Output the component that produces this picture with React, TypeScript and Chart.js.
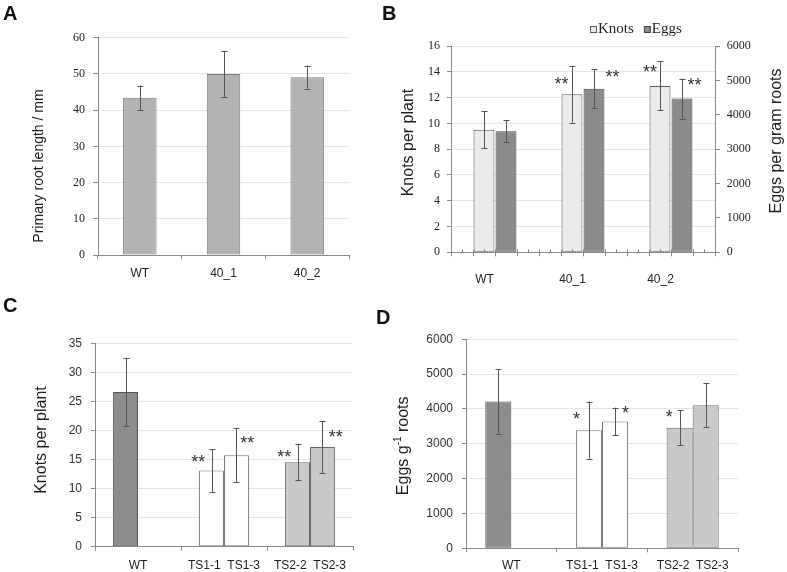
import React, { useEffect, useRef } from 'react';
import { Chart, registerables } from 'chart.js';

Chart.register(...registerables);

const SANS = '"Liberation Sans", Arial, sans-serif';
const SERIF = '"Liberation Serif", "Times New Roman", serif';

// ---------- Panel A ----------
const aCategories = ['WT', '40_1', '40_2'];
const aRootLength = [43.4, 50.0, 49.1];
const aRootLengthSd = [3.4, 6.4, 3.2];

// ---------- Panel B ----------
const bCategories = ['WT', '40_1', '40_2'];
const bKnots = [9.5, 12.25, 12.9];
const bKnotsSd = [1.43, 2.2, 1.9];
const bEggs = [3520, 4760, 4470];
const bEggsSd = [315, 563, 581];
const bKnotsStars = ['', '**', '**'];
const bEggsStars = ['', '**', '**'];

// ---------- Panel C ----------
const cCategories = ['WT', 'TS1-1  TS1-3', 'TS2-2  TS2-3'];
const cFirst = [26.6, 13.1, 14.55];
const cFirstSd = [5.9, 3.7, 3.15];
const cSecond = [null, 15.75, 17.15];
const cSecondSd = [null, 4.65, 4.45];
const cFirstStars = ['', '**', '**'];
const cSecondStars = ['', '**', '**'];

// ---------- Panel D ----------
const dCategories = ['WT', 'TS1-1  TS1-3', 'TS2-2  TS2-3'];
const dFirst = [4215, 3391, 3460];
const dFirstSd = [924, 818, 502];
const dSecond = [null, 3640, 4105];
const dSecondSd = [null, 397, 632];
const dFirstStars = ['', '*', '*'];
const dSecondStars = ['', '*', ''];

// ---------- layout of significance marks (offsets from bar top-centre, px) ----------
const bKnotsStarPos = [null, { dx: -10.5, dy: 13.6 }, { dx: -10, dy: 17.3 }];
const bEggsStarPos = [null, { dx: 18.5, dy: 14.7 }, { dx: 12.6, dy: 17 }];
const cFirstStarPos = [null, { dx: -13.3, dy: 11.6 }, { dx: -13.2, dy: 8.9 }];
const cSecondStarPos = [null, { dx: 10.9, dy: 15.2 }, { dx: 13.2, dy: 13.1 }];
const dFirstStarPos = [null, { dx: -12.5, dy: 15 }, { dx: -10.5, dy: 14 }];
const dSecondStarPos = [null, { dx: 10.5, dy: 12 }, null];

// ---------- colours ----------
const GRID = '#e4e4e4';
const AXIS = '#8a8a8a';
const TEXT = '#1e1e1e';
const ERR = '#555555';
const DARK = '#8d8d8d';
const WHITE = '#ffffff';
const LIGHT = '#c9c9c9';

const plainTick = (v: any) => String(v);

// ---------- plugins ----------
const errorBarsPlugin = {
  id: 'errorBars',
  afterDatasetsDraw(chart: any) {
    const ctx = chart.ctx;
    chart.data.datasets.forEach((ds: any, di: number) => {
      const errs = ds.errors;
      if (!errs) return;
      const meta = chart.getDatasetMeta(di);
      const ys = chart.scales[meta.yAxisID];
      ds.data.forEach((v: number | null, i: number) => {
        if (v == null || errs[i] == null) return;
        const el = meta.data[i];
        const hi = ys.getPixelForValue(v + errs[i]);
        const lo = ys.getPixelForValue(v - errs[i]);
        const x = Math.round(el.x) + 0.5;
        const cap = 3;
        ctx.save();
        ctx.strokeStyle = ERR;
        ctx.lineWidth = 1;
        ctx.beginPath();
        ctx.moveTo(x, hi);
        ctx.lineTo(x, lo);
        ctx.moveTo(x - cap, Math.round(hi) + 0.5);
        ctx.lineTo(x + cap, Math.round(hi) + 0.5);
        ctx.moveTo(x - cap, Math.round(lo) + 0.5);
        ctx.lineTo(x + cap, Math.round(lo) + 0.5);
        ctx.stroke();
        ctx.restore();
      });
    });
  },
};

const starsPlugin = {
  id: 'stars',
  afterDatasetsDraw(chart: any) {
    const ctx = chart.ctx;
    chart.data.datasets.forEach((ds: any, di: number) => {
      const stars = ds.stars;
      if (!stars) return;
      const meta = chart.getDatasetMeta(di);
      stars.forEach((s: string, i: number) => {
        if (!s) return;
        const el = meta.data[i];
        const pos = (ds.starPos && ds.starPos[i]) || { dx: 0, dy: 14 };
        ctx.save();
        ctx.font = `18px ${SANS}`;
        ctx.fillStyle = '#333333';
        ctx.textAlign = 'center';
        ctx.textBaseline = 'alphabetic';
        const m = ctx.measureText(s);
        const cy = el.y - pos.dy;
        const base = cy + (m.actualBoundingBoxAscent - m.actualBoundingBoxDescent) / 2;
        ctx.fillText(s, el.x + pos.dx, base);
        ctx.restore();
      });
    });
  },
};

const axisTitlesPlugin = {
  id: 'axisTitles',
  afterDraw(chart: any, _args: any, opts: any) {
    const ctx = chart.ctx;
    (opts.items || []).forEach((t: any) => {
      ctx.save();
      ctx.translate(t.x, t.y);
      ctx.rotate(-Math.PI / 2);
      ctx.fillStyle = TEXT;
      ctx.textBaseline = 'middle';
      ctx.textAlign = 'left';
      const segs = t.segments;
      const big = `${t.size}px ${SANS}`;
      const small = `${Math.round(t.size * 0.62)}px ${SANS}`;
      let total = 0;
      const widths = segs.map((sg: any) => {
        ctx.font = sg.sup ? small : big;
        const w = ctx.measureText(sg.text).width;
        total += w;
        return w;
      });
      let x = -total / 2;
      segs.forEach((sg: any, k: number) => {
        ctx.font = sg.sup ? small : big;
        ctx.fillText(sg.text, x, sg.sup ? -t.size * 0.33 : 0);
        x += widths[k];
      });
      ctx.restore();
    });
  },
};

const boxLegendPlugin = {
  id: 'boxLegend',
  afterDraw(chart: any, _args: any, opts: any) {
    if (!opts || !opts.display) return;
    const ctx = chart.ctx;
    ctx.save();
    ctx.font = opts.font;
    ctx.textBaseline = 'middle';
    ctx.textAlign = 'left';
    let x = opts.x;
    const y = opts.y;
    const b = opts.box;
    chart.data.datasets.forEach((ds: any) => {
      ctx.fillStyle = ds.backgroundColor;
      ctx.fillRect(x + 0.5, y - b / 2 + 0.5, b, b);
      ctx.strokeStyle = ds.borderColor;
      ctx.lineWidth = 1;
      ctx.strokeRect(x + 0.5, y - b / 2 + 0.5, b, b);
      x += b + opts.gap;
      ctx.fillStyle = TEXT;
      ctx.fillText(ds.label, x, y);
      x += ctx.measureText(ds.label).width + opts.itemGap;
    });
    ctx.restore();
  },
};

const minorTicksPlugin = {
  id: 'minorTicks',
  afterDraw(chart: any, _args: any, opts: any) {
    if (!opts || !opts.divisions) return;
    const ctx = chart.ctx;
    const { left, right, bottom } = chart.chartArea;
    ctx.save();
    ctx.strokeStyle = AXIS;
    ctx.lineWidth = 1;
    ctx.beginPath();
    for (let i = 0; i <= opts.divisions; i++) {
      const x = Math.round(left + ((right - left) * i) / opts.divisions) + 0.5;
      ctx.moveTo(x, bottom - opts.up);
      ctx.lineTo(x, i % 2 === 0 ? bottom + opts.down : bottom);
    }
    ctx.stroke();
    ctx.restore();
  },
};

const basePlugins = [errorBarsPlugin, starsPlugin, axisTitlesPlugin, boxLegendPlugin, minorTicksPlugin];

const sansTick = (size: number) => ({ family: SANS, size });
const serifTick = (size: number) => ({ family: SERIF, size });

// ---------- chart configs ----------
function makeA(): any {
  return {
    type: 'bar',
    plugins: basePlugins,
    data: {
      labels: aCategories,
      datasets: [
        {
          label: 'Primary root length',
          data: aRootLength,
          errors: aRootLengthSd,
          backgroundColor: '#b3b3b3',
          borderColor: '#7b7b7b',
          borderWidth: 1,
          borderSkipped: false,
          barPercentage: 0.4,
          categoryPercentage: 1,
        },
      ],
    },
    options: {
      animation: false,
      responsive: false,
      devicePixelRatio: 1,
      layout: { padding: { left: 0, top: 37.7, right: 41, bottom: 0 } },
      plugins: {
        legend: { display: false },
        tooltip: { enabled: false },
        axisTitles: { items: [{ x: 39, y: 166, size: 14, segments: [{ text: 'Primary root length / mm' }] }] },
      },
      scales: {
        x: {
          grid: { display: true, drawOnChartArea: false, tickLength: 4, tickColor: AXIS, offset: true },
          border: { color: AXIS },
          ticks: { font: sansTick(12), color: TEXT, padding: 7, autoSkip: false, maxRotation: 0 },
          afterFit: (s: any) => { s.height = 35; },
        },
        y: {
          min: 0,
          max: 60,
          ticks: { stepSize: 10, font: serifTick(12), color: TEXT, padding: 8, callback: plainTick },
          grid: { color: GRID, tickColor: AXIS, tickLength: 5 },
          border: { color: AXIS },
          afterFit: (s: any) => { s.width = 98; },
        },
      },
    },
  };
}

function makeB(): any {
  return {
    type: 'bar',
    plugins: basePlugins,
    data: {
      labels: bCategories,
      datasets: [
        {
          label: 'Knots',
          data: bKnots,
          errors: bKnotsSd,
          stars: bKnotsStars,
          starPos: bKnotsStarPos,
          yAxisID: 'y',
          backgroundColor: '#ebebeb',
          borderColor: '#5a5a5a',
          borderWidth: 1,
          borderSkipped: false,
          barPercentage: 0.95,
          categoryPercentage: 0.5,
        },
        {
          label: 'Eggs',
          data: bEggs,
          errors: bEggsSd,
          stars: bEggsStars,
          starPos: bEggsStarPos,
          yAxisID: 'y1',
          backgroundColor: '#8a8a8a',
          borderColor: '#454545',
          borderWidth: 1,
          borderSkipped: false,
          barPercentage: 0.95,
          categoryPercentage: 0.5,
        },
      ],
    },
    options: {
      animation: false,
      responsive: false,
      devicePixelRatio: 1,
      layout: { padding: { left: 0, top: 46, right: 0, bottom: 0 } },
      plugins: {
        legend: { display: false },
        tooltip: { enabled: false },
        boxLegend: { display: true, x: 200, y: 29, box: 6, gap: 2, itemGap: 10, font: `15px ${SERIF}` },
        minorTicks: { divisions: 24, up: 3, down: 4 },
        axisTitles: {
          items: [
            { x: 19, y: 142.5, size: 16, segments: [{ text: 'Knots per plant' }] },
            { x: 387, y: 141, size: 16, segments: [{ text: 'Eggs per gram roots' }] },
          ],
        },
      },
      scales: {
        x: {
          grid: { display: false },
          border: { color: AXIS },
          ticks: { font: sansTick(12), color: TEXT, padding: 12.5, labelOffset: -10.5, autoSkip: false, maxRotation: 0 },
          afterFit: (s: any) => { s.height = 37.7; },
        },
        y: {
          position: 'left',
          min: 0,
          max: 16,
          ticks: { stepSize: 2, font: serifTick(12), color: TEXT, padding: 7, callback: plainTick },
          grid: { color: GRID, tickColor: AXIS, tickLength: 4 },
          border: { color: AXIS },
          afterFit: (s: any) => { s.width = 61; },
        },
        y1: {
          position: 'right',
          min: 0,
          max: 6000,
          ticks: { stepSize: 1000, font: serifTick(12), color: TEXT, padding: 6.7, callback: plainTick },
          grid: { drawOnChartArea: false, tickColor: AXIS, tickLength: 5 },
          border: { color: AXIS },
          afterFit: (s: any) => { s.width = 72; },
        },
      },
    },
  };
}

function groupedConfig(
  labels: string[],
  first: (number | null)[],
  firstSd: (number | null)[],
  firstStars: string[],
  firstStarPos: any[],
  second: (number | null)[],
  secondSd: (number | null)[],
  secondStars: string[],
  secondStarPos: any[],
  yMax: number,
  yStep: number,
  catPct: number,
  padding: any,
  yWidth: number,
  xHeight: number,
  xPad: number,
  title: any
): any {
  const fills = [DARK, WHITE, LIGHT];
  const borders = ['#555555', '#7a7a7a', '#6a6a6a'];
  return {
    type: 'bar',
    plugins: basePlugins,
    data: {
      labels,
      datasets: [
        {
          label: 'first line',
          data: first,
          errors: firstSd,
          stars: firstStars,
          starPos: firstStarPos,
          backgroundColor: fills,
          borderColor: borders,
          borderWidth: 1,
          borderSkipped: false,
          barPercentage: 1,
          categoryPercentage: catPct,
        },
        {
          label: 'second line',
          data: second,
          errors: secondSd,
          stars: secondStars,
          starPos: secondStarPos,
          backgroundColor: fills,
          borderColor: borders,
          borderWidth: 1,
          borderSkipped: false,
          barPercentage: 1,
          categoryPercentage: catPct,
        },
      ],
    },
    options: {
      animation: false,
      responsive: false,
      devicePixelRatio: 1,
      layout: { padding },
      plugins: {
        legend: { display: false },
        tooltip: { enabled: false },
        axisTitles: { items: [title] },
      },
      scales: {
        x: {
          grid: { display: true, drawOnChartArea: false, tickLength: 4, tickColor: AXIS, offset: true },
          border: { color: AXIS },
          ticks: { font: sansTick(12), color: TEXT, padding: xPad, autoSkip: false, maxRotation: 0 },
          afterFit: (s: any) => { s.height = xHeight; },
        },
        y: {
          min: 0,
          max: yMax,
          ticks: { stepSize: yStep, font: sansTick(12), color: '#333333', padding: 9, callback: plainTick },
          grid: { color: GRID, tickColor: AXIS, tickLength: 4 },
          border: { color: AXIS },
          afterFit: (s: any) => { s.width = yWidth; },
        },
      },
    },
  };
}

function makeC(): any {
  return groupedConfig(
    cCategories, cFirst, cFirstSd, cFirstStars, cFirstStarPos,
    cSecond, cSecondSd, cSecondStars, cSecondStarPos,
    35, 5, 0.58,
    { left: 0, top: 53.3, right: 37, bottom: 0 }, 95, 25.3, 8,
    { x: 41.4, y: 150, size: 16, segments: [{ text: 'Knots per plant' }] }
  );
}

function makeD(): any {
  return groupedConfig(
    dCategories, dFirst, dFirstSd, dFirstStars, dFirstStarPos,
    dSecond, dSecondSd, dSecondStars, dSecondStarPos,
    6000, 1000, 0.575,
    { left: 0, top: 49.3, right: 49, bottom: 0 }, 76, 23.7, 6.5,
    { x: 13.7, y: 155.8, size: 16, segments: [{ text: 'Eggs g' }, { text: '-1', sup: true }, { text: ' roots' }] }
  );
}

type PanelProps = { left: number; top: number; width: number; height: number; make: () => any };

function Panel({ left, top, width, height, make }: PanelProps) {
  const ref = useRef<HTMLCanvasElement | null>(null);
  useEffect(() => {
    if (!ref.current) return;
    const chart = new Chart(ref.current, make());
    return () => chart.destroy();
  }, []);
  return (
    <canvas
      ref={ref}
      width={width}
      height={height}
      style={{ position: 'absolute', left, top, width, height, display: 'block' }}
    />
  );
}

const letterStyle = (left: number, top: number): React.CSSProperties => ({
  position: 'absolute',
  left,
  top,
  font: `bold 20px ${SANS}`,
  lineHeight: '20px',
  color: '#111',
});

export default function App() {
  return (
    <div style={{ position: 'absolute', left: 0, top: 0, width: 787, height: 572, background: '#ffffff', overflow: 'hidden' }}>
      <Panel left={0} top={0} width={390} height={290} make={makeA} />
      <Panel left={390} top={0} width={397} height={290} make={makeB} />
      <Panel left={0} top={290} width={390} height={282} make={makeC} />
      <Panel left={390} top={290} width={397} height={282} make={makeD} />
      <div style={letterStyle(3, 2.5)}>A</div>
      <div style={letterStyle(382, 2.5)}>B</div>
      <div style={letterStyle(3, 294.5)}>C</div>
      <div style={letterStyle(376, 306.5)}>D</div>
    </div>
  );
}
